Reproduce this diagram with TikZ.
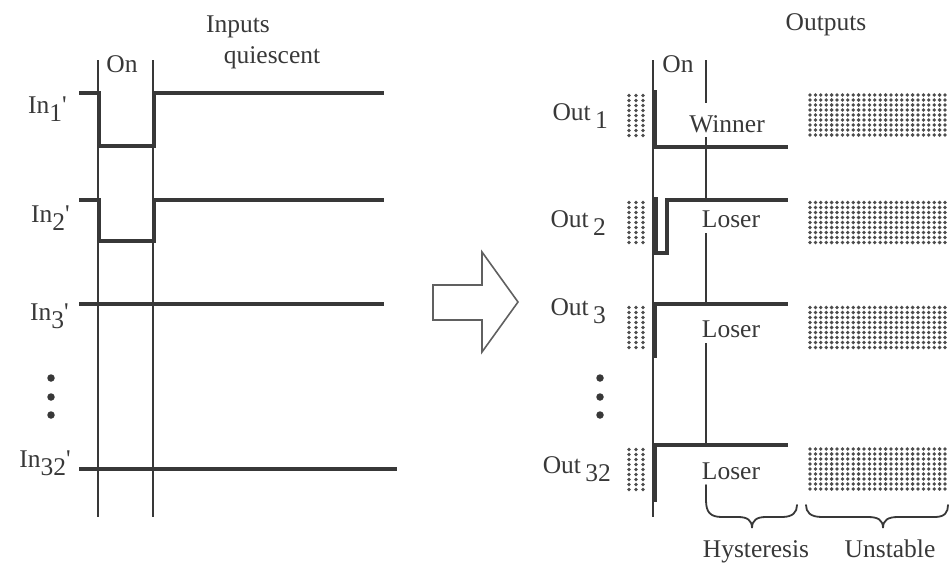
\documentclass[tikz,border=0pt]{standalone}
\usepackage{fontspec}
\setmainfont{Liberation Serif}
\newcommand\lowsub[1]{\raisebox{-0.32em}{#1}}
\newcommand\prm{\textquotesingle}
% dots: x first, x second, x last, y first, y second, y last
\newcommand\stipfill[6]{%
  \foreach \xx in {#1,#2,...,#3}{%
    \foreach \yy in {#4,#5,...,#6}{%
      \fill[stipc] (\xx,\yy) circle (1.9pt);}}}
\definecolor{ink}{gray}{0.22}
\definecolor{stipc}{gray}{0.3}
\begin{document}
\begin{tikzpicture}[x=1pt,y=-1pt,
  txt/.style={font=\fontsize{25.5}{30}\selectfont, text=ink, inner sep=0pt},
  thinln/.style={draw=ink, line width=1.8pt},
  sig/.style={draw=ink, line width=4pt, line join=miter},
  bigdot/.style={fill=ink, circle, inner sep=0pt, minimum size=7.5pt},
  brc/.style={draw=ink, line width=1.8pt, line cap=round}]
\path[use as bounding box] (0,0) rectangle (949,562);

% ---------------- Left panel ----------------
\node[txt, anchor=base] (inputs) at (238,32) {Inputs};
\node[txt, anchor=base] (quiesc) at (272,63) {quiescent};
\node[txt, anchor=base] (onL) at (122,72) {On};

\coordinate (la1) at (98,60);  \coordinate (la2) at (98,517);
\coordinate (lb1) at (153,60); \coordinate (lb2) at (153,517);
\draw[thinln] (la1) -- (la2);
\draw[thinln] (lb1) -- (lb2);

\node[txt, anchor=base east] (in1) at (67,113) {In\lowsub{1}\prm};
\node[txt, anchor=base east] (in2) at (70,222) {In\lowsub{2}\prm};
\node[txt, anchor=base east] (in3) at (69,320) {In\lowsub{3}\prm};
\node[txt, anchor=base east] (in32) at (71,467) {In\lowsub{32}\prm};

\draw[sig] (79,93) -- (99,93) -- (99,146) -- (154,146) -- (154,93) -- (384,93);
\draw[sig] (79,200) -- (99,200) -- (99,241) -- (154,241) -- (154,200) -- (384,200);
\draw[sig] (79,304) -- (384,304);
\draw[sig] (79,469) -- (397,469);

\node[bigdot] (ld1) at (51,378) {};
\node[bigdot] (ld2) at (51,397) {};
\node[bigdot] (ld3) at (51,415) {};

% ---------------- Arrow ----------------
\draw[draw=ink!80, line width=1.6pt, line join=miter]
  (433,285) -- (482,285) -- (482,252) -- (518,302) -- (482,352) -- (482,320) -- (433,320) -- cycle;

% ---------------- Right panel ----------------
\node[txt, anchor=base] (outputs) at (826,30) {Outputs};
\node[txt, anchor=base] (onR) at (678,72) {On};

\node[txt, anchor=base east] (out1) at (608,120) {Out\,\lowsub{1}};
\node[txt, anchor=base east] (out2) at (606,227) {Out\,\lowsub{2}};
\node[txt, anchor=base east] (out3) at (606,315) {Out\,\lowsub{3}};
\node[txt, anchor=base east] (out32) at (611,473) {Out\,\lowsub{32}};

\node[txt, anchor=base] (win) at (727,132) {Winner};
\node[txt, anchor=base] (los2) at (731,227) {Loser};
\node[txt, anchor=base] (los3) at (731,337) {Loser};
\node[txt, anchor=base] (los32) at (731,479) {Loser};

% stippled regions (small, left of traces)
\stipfill{629}{636}{645}{95.5}{100.5}{136}
\stipfill{629}{636}{645}{202.5}{207.5}{244}
\stipfill{629}{636}{645}{307.5}{312.5}{348}
\stipfill{629}{636}{645}{449.5}{454.5}{491}
% stippled regions (large, right)
\stipfill{810}{815.4}{948}{95}{100}{136}
\stipfill{810}{815.4}{948}{202.5}{207.5}{243}
\stipfill{810}{815.4}{948}{307.5}{312.5}{348}
\stipfill{810}{815.4}{948}{449}{454}{490}

% left thin vertical
\coordinate (ra1) at (653,60); \coordinate (ra2) at (653,517);
\draw[thinln] (ra1) -- (ra2);

% hysteresis boundary line, broken by labels
\coordinate (rb0) at (706,60);
\draw[thinln] (rb0) -- (706,103);
\draw[thinln] (706,137) -- (706,200);
\draw[thinln] (706,233) -- (706,304);
\draw[thinln] (706,343) -- (706,447);

% output traces
\draw[sig] (655,90) -- (655,147) -- (788,147);
\draw[sig] (656,197) -- (656,253) -- (667,253) -- (667,200) -- (788,200);
\draw[sig] (653,304) -- (788,304);
\draw[sig] (655,304) -- (655,358);
\draw[sig] (653,445) -- (788,445);
\draw[sig] (655,445) -- (655,502);

\node[bigdot] (rd1) at (600,378) {};
\node[bigdot] (rd2) at (600,397) {};
\node[bigdot] (rd3) at (600,415) {};

% braces
\draw[brc] (706,485) -- (706,500) .. controls (706,512) and (710,517) .. (722,517)
  -- (738,517) .. controls (747,517) and (752,520) .. (752,528)
  .. controls (752,520) and (757,517) .. (766,517)
  -- (782,517) .. controls (793,517) and (797,512) .. (797,505);
\draw[brc] (806,505) .. controls (806,512) and (810,517) .. (822,517)
  -- (868,517) .. controls (878,517) and (883,520) .. (883,528)
  .. controls (883,520) and (888,517) .. (898,517)
  -- (935,517) .. controls (945,517) and (948,512) .. (948,505);

\node[txt, anchor=base] (hyst) at (756,557) {Hysteresis};
\node[txt, anchor=base] (unst) at (890,557) {Unstable};
\end{tikzpicture}
\end{document}
